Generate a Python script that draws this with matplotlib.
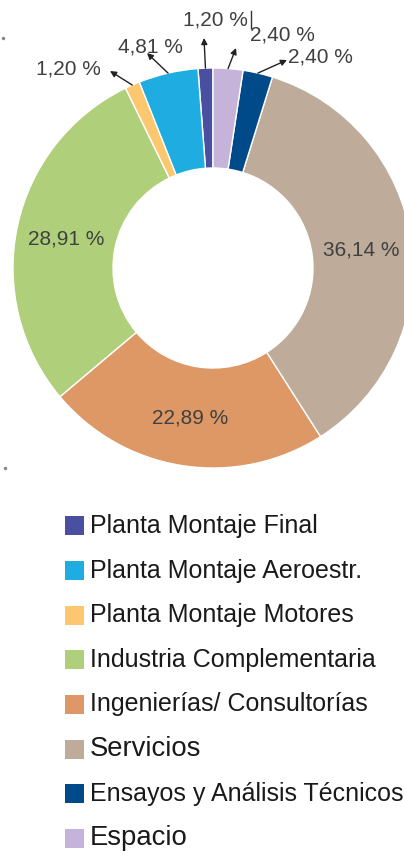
import numpy as np
import matplotlib
matplotlib.use("Agg")
import matplotlib.pyplot as plt
from matplotlib.patches import Rectangle
from matplotlib.lines import Line2D

plt.rcParams['font.family'] = ['Liberation Sans', 'DejaVu Sans']

categories = ["Planta Montaje Final", "Planta Montaje Aeroestr.", "Planta Montaje Motores",
              "Industria Complementaria", "Ingenierías/ Consultorías", "Servicios",
              "Ensayos y Análisis Técnicos", "Espacio"]
values = [1.20, 4.81, 1.20, 28.91, 22.89, 36.14, 2.40, 2.40]
labels = ["1,20 %", "4,81 %", "1,20 %", "28,91 %", "22,89 %", "36,14 %", "2,40 %", "2,40 %"]
colors = ["#4B4F9F", "#1FADE1", "#FDC76F", "#AFCF7B", "#DE9866", "#BEAB99", "#014A8A", "#C6B3D9"]

W, H = 404, 855
fig = plt.figure(figsize=(W / 100, H / 100), dpi=100)
fig.patch.set_facecolor("white")

cx, cy, R = 213, 268, 200
ax = fig.add_axes([(cx - R) / W, (H - cy - R) / H, 2 * R / W, 2 * R / H])
wedges, _ = ax.pie(values, colors=colors, startangle=90, counterclock=True, radius=1,
                   wedgeprops=dict(width=0.5, edgecolor="white", linewidth=1))
ax.set_xlim(-1, 1)
ax.set_ylim(-1, 1)
ax.set_aspect("equal")
ax.axis("off")

lab_color = "#404040"
cap = 0.0375  # half digit height in data units
# inside labels
inside = {3, 4, 5}
# outside label layout: (tip x, tip y, text x, text y)
outside = {
    0: (-0.045, 1.15, 0.01, 1.25),
    1: (-0.33, 1.075, -0.315, 1.115),
    2: (-0.515, 0.985, -0.725, 1.005),
    6: (0.37, 1.04, 0.535, 1.065),
    7: (0.115, 1.10, 0.345, 1.175),
}
for i, w in enumerate(wedges):
    mid = np.deg2rad((w.theta1 + w.theta2) / 2)
    if i in inside:
        x, y = 0.75 * np.cos(mid), 0.75 * np.sin(mid)
        ax.text(x, y - cap, labels[i], ha="center", va="baseline", fontsize=15, color=lab_color)
    else:
        tx, ty, lx, ly = outside[i]
        sx, sy = np.cos(mid), np.sin(mid)
        ax.annotate("", xy=(tx, ty), xytext=(sx, sy), annotation_clip=False,
                    arrowprops=dict(arrowstyle="-|>", color="#222222", lw=1.0,
                                    mutation_scale=9, shrinkA=0, shrinkB=0))
        ax.text(lx, ly - cap, labels[i], ha="center", va="baseline", fontsize=15,
                color=lab_color, clip_on=False)

# small artifacts
fig.add_artist(Line2D([251 / W, 251 / W], [1 - 11 / H, 1 - 28 / H], color="#333333", lw=1))
fig.add_artist(Line2D([3 / W], [1 - 38 / H], marker="o", ms=1.5, color="#888888", lw=0))
fig.add_artist(Line2D([5 / W], [1 - 468 / H], marker="o", ms=1.5, color="#888888", lw=0))

# legend
row0, step = 526, 44.6
sizes = [18, 18, 18, 18, 18, 19.8, 18, 19.8]
for i, (name, c) in enumerate(zip(categories, colors)):
    yc = row0 + i * step
    fig.add_artist(Rectangle((65 / W, 1 - (yc + 9.5) / H), 19 / W, 19 / H,
                             facecolor=c, edgecolor="none", transform=fig.transFigure))
    fig.text(90 / W, 1 - yc / H, name, ha="left", va="center", fontsize=sizes[i], color="#1a1a1a")

fig.savefig("out.png", dpi=100)
